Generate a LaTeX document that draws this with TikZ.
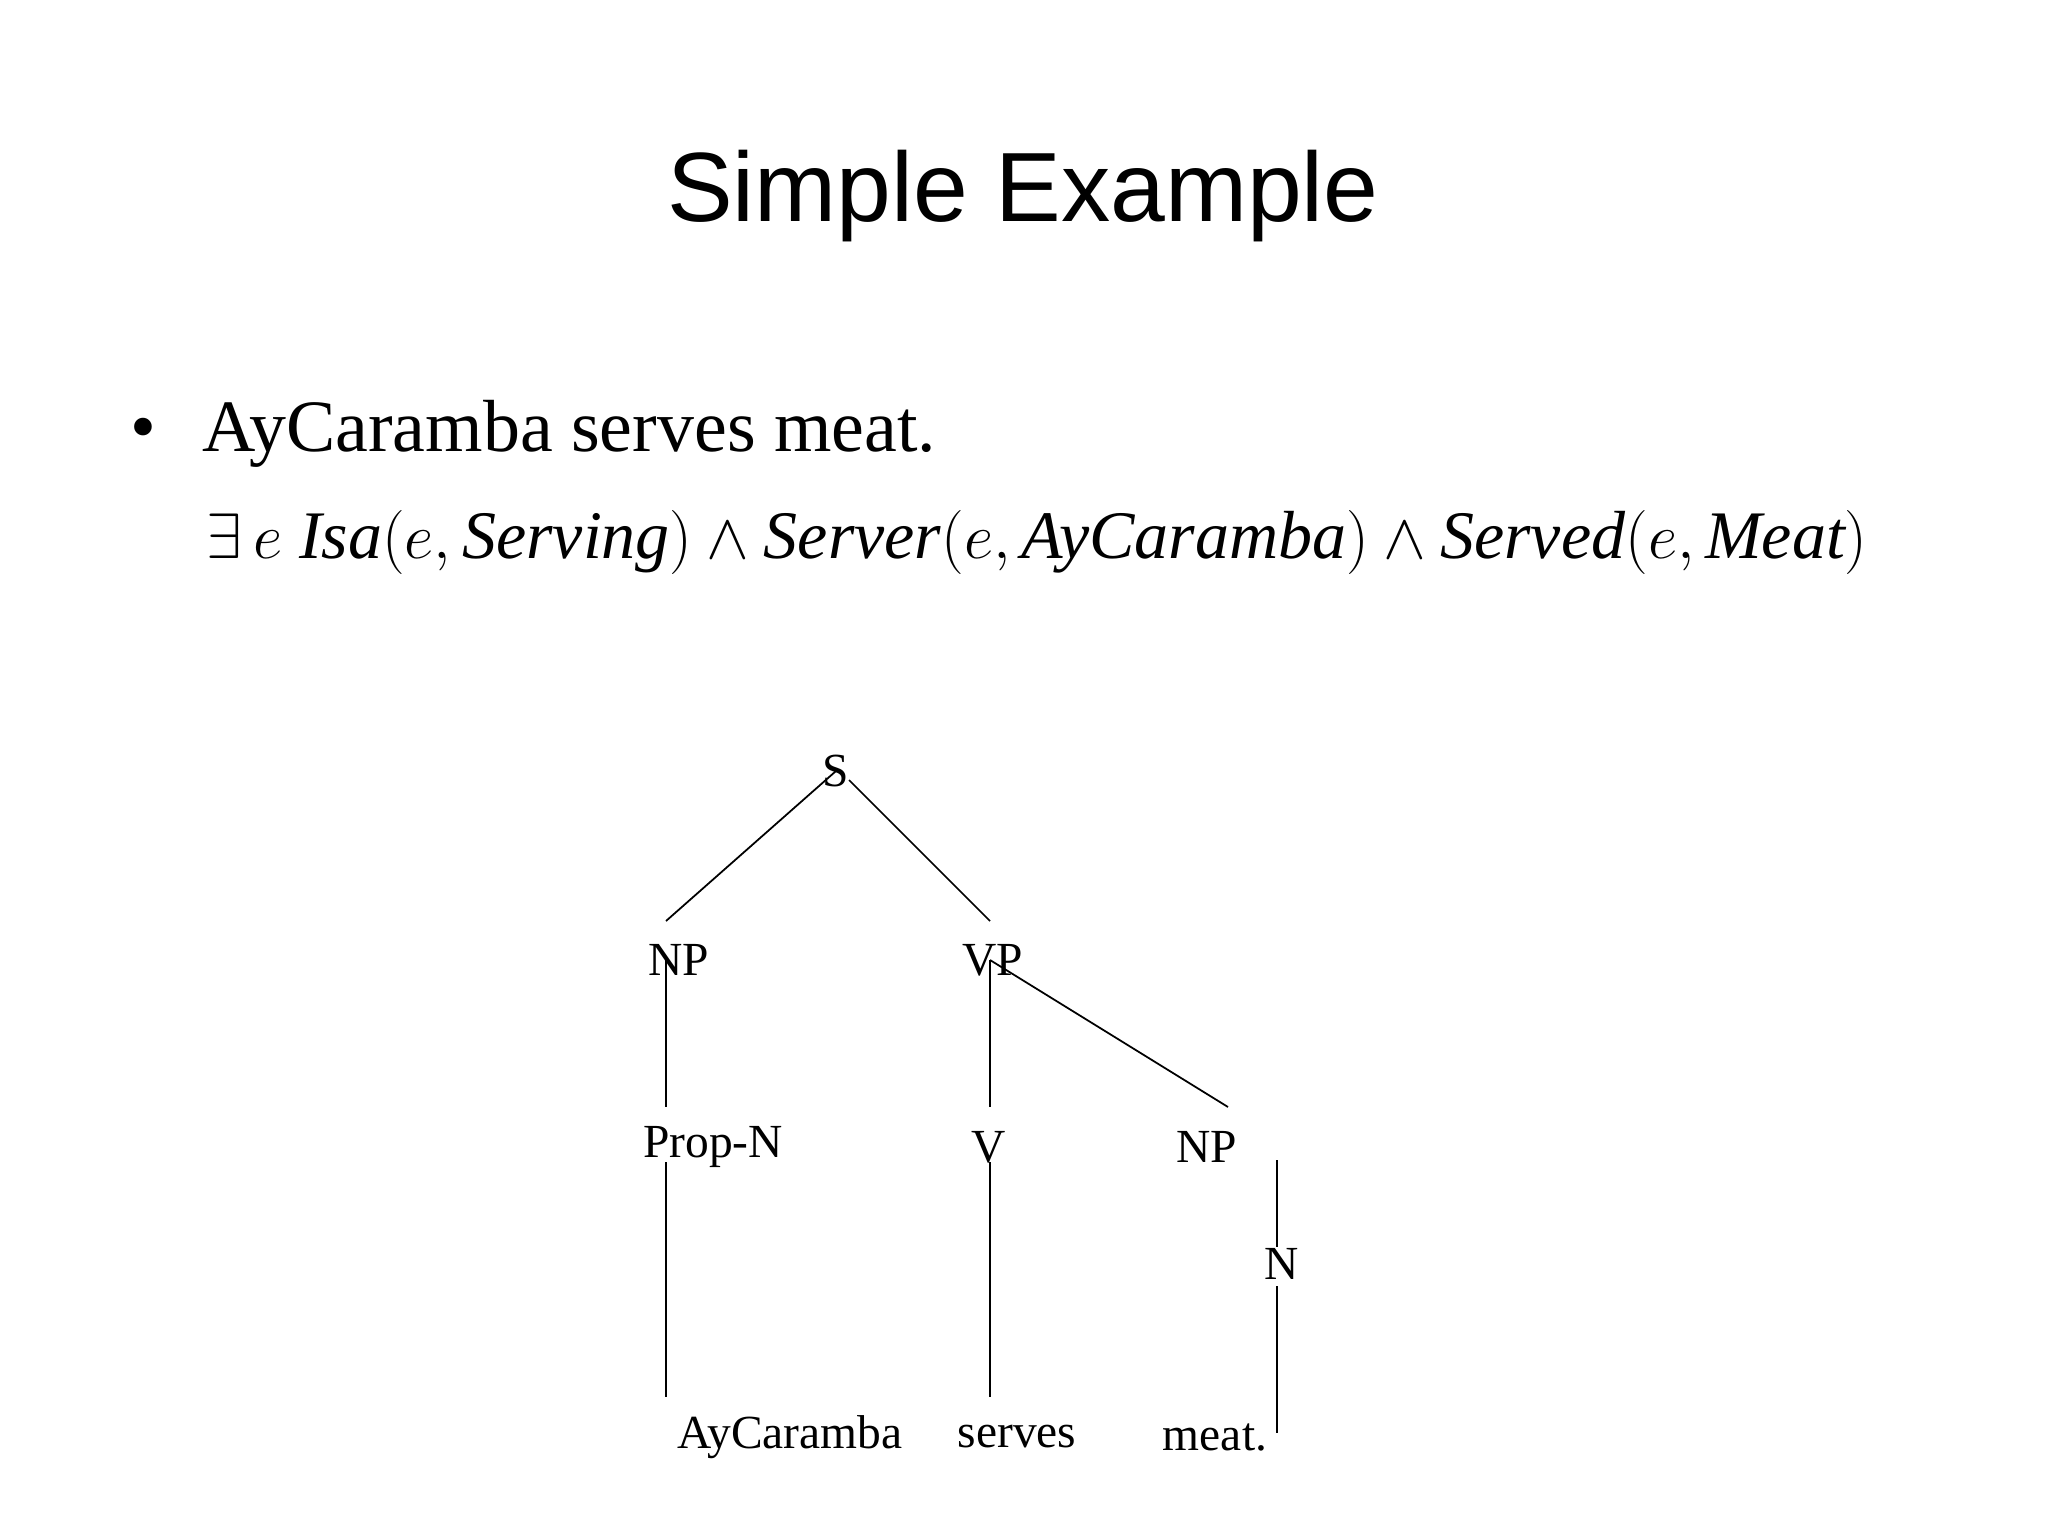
\documentclass[tikz,border=0pt]{standalone}
\usepackage{fontspec}
\setmainfont{Liberation Serif}
\newfontfamily\titlefont{Liberation Sans}
\usepackage{graphicx}
\begin{document}
\begin{tikzpicture}[x=0.01cm,y=-0.01cm,
  lbl/.style={font=\fontsize{13.5}{15}\selectfont, inner sep=0pt},
  edge/.style={line width=0.5pt}]
\useasboundingbox (0,0) rectangle (2048,1536);
\node[font=\titlefont\fontsize{28}{32}\selectfont] (title) at (1023,196) {Simple Example};
\node[font=\fontsize{21}{24}\selectfont, anchor=base west] (bul) at (118,451) {\textbullet};
\node[font=\fontsize{21}{24}\selectfont, anchor=base west, inner sep=0pt] (sent) at (202,451) {AyCaramba serves meat.};
\node[font=\fontsize{22}{24}\selectfont, anchor=base west, inner sep=0pt] (form) at (206,558)
 {\resizebox{16.6cm}{!}{$\exists\, e\ \textit{Isa}\bigl(e,\textit{Serving}\bigr)\wedge\textit{Server}\bigl(e,\textit{AyCaramba}\bigr)\wedge\textit{Served}\bigl(e,\textit{Meat}\bigr)$}};
% tree labels
\node[lbl] (S) at (836,771) {S};
\node[lbl] (NP1) at (679,960) {NP};
\node[lbl] (VP) at (993,960) {VP};
\node[lbl] (PN) at (713,1147) {Prop-N};
\node[lbl] (V) at (989,1147) {V};
\node[lbl] (NP2) at (1207,1147) {NP};
\node[lbl] (N) at (1282,1264) {N};
\node[lbl] (w1) at (790,1437) {AyCaramba};
\node[lbl] (w2) at (1017,1437) {serves};
\node[lbl] (w3) at (1215,1437) {meat.};
% endpoints
\coordinate (s1) at (836,771); \coordinate (np1t) at (666,921);
\coordinate (s2) at (849,780); \coordinate (vpt) at (990,921);
\coordinate (np1a) at (666,960); \coordinate (np1b) at (666,1107);
\coordinate (vpa) at (990,960); \coordinate (vpb) at (990,1107);
\coordinate (np2b) at (1228,1107);
\coordinate (pna) at (666,1162); \coordinate (pnb) at (666,1397);
\coordinate (va) at (990,1162); \coordinate (vb) at (990,1397);
\coordinate (n1) at (1277,1160); \coordinate (n2) at (1277,1247);
\coordinate (n3) at (1277,1286); \coordinate (n4) at (1277,1433);
\draw[edge] (s1) -- (np1t);
\draw[edge] (s2) -- (vpt);
\draw[edge] (np1a) -- (np1b);
\draw[edge] (vpa) -- (vpb);
\draw[edge] (vpa) -- (np2b);
\draw[edge] (pna) -- (pnb);
\draw[edge] (va) -- (vb);
\draw[edge] (n1) -- (n2);
\draw[edge] (n3) -- (n4);
\end{tikzpicture}
\end{document}
